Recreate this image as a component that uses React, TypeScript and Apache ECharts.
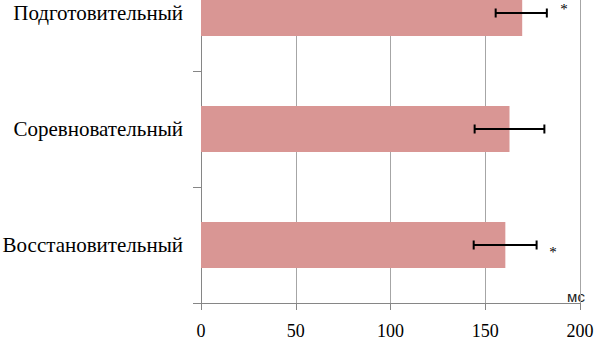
import React, { useEffect, useRef } from "react";
import * as echarts from "echarts";

const categories = ["Подготовительный", "Соревновательный", "Восстановительный"];
const means = [169.5, 162.8, 160.6];
const errLow = [155.5, 144.4, 143.9];
const errHigh = [182.5, 181.2, 177.1];
const xTicks = [0, 50, 100, 150, 200];
const starX = [191.6, 185.8];
const starCat = [0, 2];
const unitLabel = "мс";

const SHIFT = 45;

export default function App() {
  const ref = useRef<HTMLDivElement>(null);
  useEffect(() => {
    if (!ref.current) return;
    const chart = echarts.init(ref.current, undefined, { renderer: "svg" });
    const serif = "'Liberation Serif', 'Times New Roman', serif";
    const starDy = [-4, 6.5];
    chart.setOption({
      animation: false,
      grid: {
        left: 201,
        right: 16,
        top: 0,
        bottom: 37,
        containLabel: false,
        outerBoundsMode: "none",
      },
      xAxis: {
        type: "value",
        min: xTicks[0],
        max: xTicks[xTicks.length - 1],
        interval: 50,
        axisLine: { show: true, lineStyle: { color: "#868686", width: 1 } },
        axisTick: { show: true, length: 7, lineStyle: { color: "#868686" } },
        splitLine: { show: true, lineStyle: { color: "#a6a6a6", width: 1 } },
        axisLabel: { color: "#000", fontFamily: serif, fontSize: 18, margin: 19 },
      },
      yAxis: {
        type: "category",
        inverse: true,
        data: categories,
        axisLine: { show: true, lineStyle: { color: "#868686", width: 1 } },
        axisTick: { show: true, length: 8, alignWithLabel: false, lineStyle: { color: "#868686" } },
        axisLabel: { color: "#000", fontFamily: serif, fontSize: 21, margin: 18 },
        splitLine: { show: false },
      },
      series: [
        {
          type: "bar",
          data: means,
          barWidth: 46,
          itemStyle: { color: "#D99694" },
        },
        {
          type: "custom",
          data: categories.map((_, i) => [i, errLow[i], errHigh[i]]),
          encode: { x: [1, 2], y: 0 },
          z: 5,
          renderItem: (params: any, api: any) => {
            const cat = api.value(0);
            const p1 = api.coord([api.value(1), cat]);
            const p2 = api.coord([api.value(2), cat]);
            const h = 4.5;
            const style = { stroke: "#000", lineWidth: 2 };
            return {
              type: "group",
              children: [
                { type: "line", shape: { x1: p1[0], y1: p1[1], x2: p2[0], y2: p2[1] }, style },
                { type: "line", shape: { x1: p1[0], y1: p1[1] - h, x2: p1[0], y2: p1[1] + h }, style },
                { type: "line", shape: { x1: p2[0], y1: p2[1] - h, x2: p2[0], y2: p2[1] + h }, style },
              ],
            };
          },
        },
        {
          type: "custom",
          z: 6,
          data: starX.map((x, i) => [x, starCat[i], i]),
          encode: { x: 0, y: 1 },
          renderItem: (params: any, api: any) => {
            const p = api.coord([api.value(0), api.value(1)]);
            const idx = api.value(2);
            return {
              type: "text",
              x: p[0],
              y: p[1] + starDy[idx],
              style: {
                text: "*",
                fill: "#000",
                font: "15px " + serif,
                align: "center",
                verticalAlign: "middle",
              },
            };
          },
        },
      ],
      graphic: [
        {
          type: "text",
          x: 576,
          y: 296 + SHIFT,
          style: {
            text: unitLabel,
            font: "15px 'Liberation Sans', Arial, sans-serif",
            fill: "#222",
            align: "center",
            verticalAlign: "middle",
          },
        },
      ],
    });
    return () => chart.dispose();
  }, []);
  return (
    <div style={{ position: "absolute", left: 0, top: 0, width: 596, height: 340, overflow: "hidden" }}>
      <div ref={ref} style={{ width: 596, height: 340 + SHIFT, position: "absolute", left: 0, top: -SHIFT }} />
    </div>
  );
}
